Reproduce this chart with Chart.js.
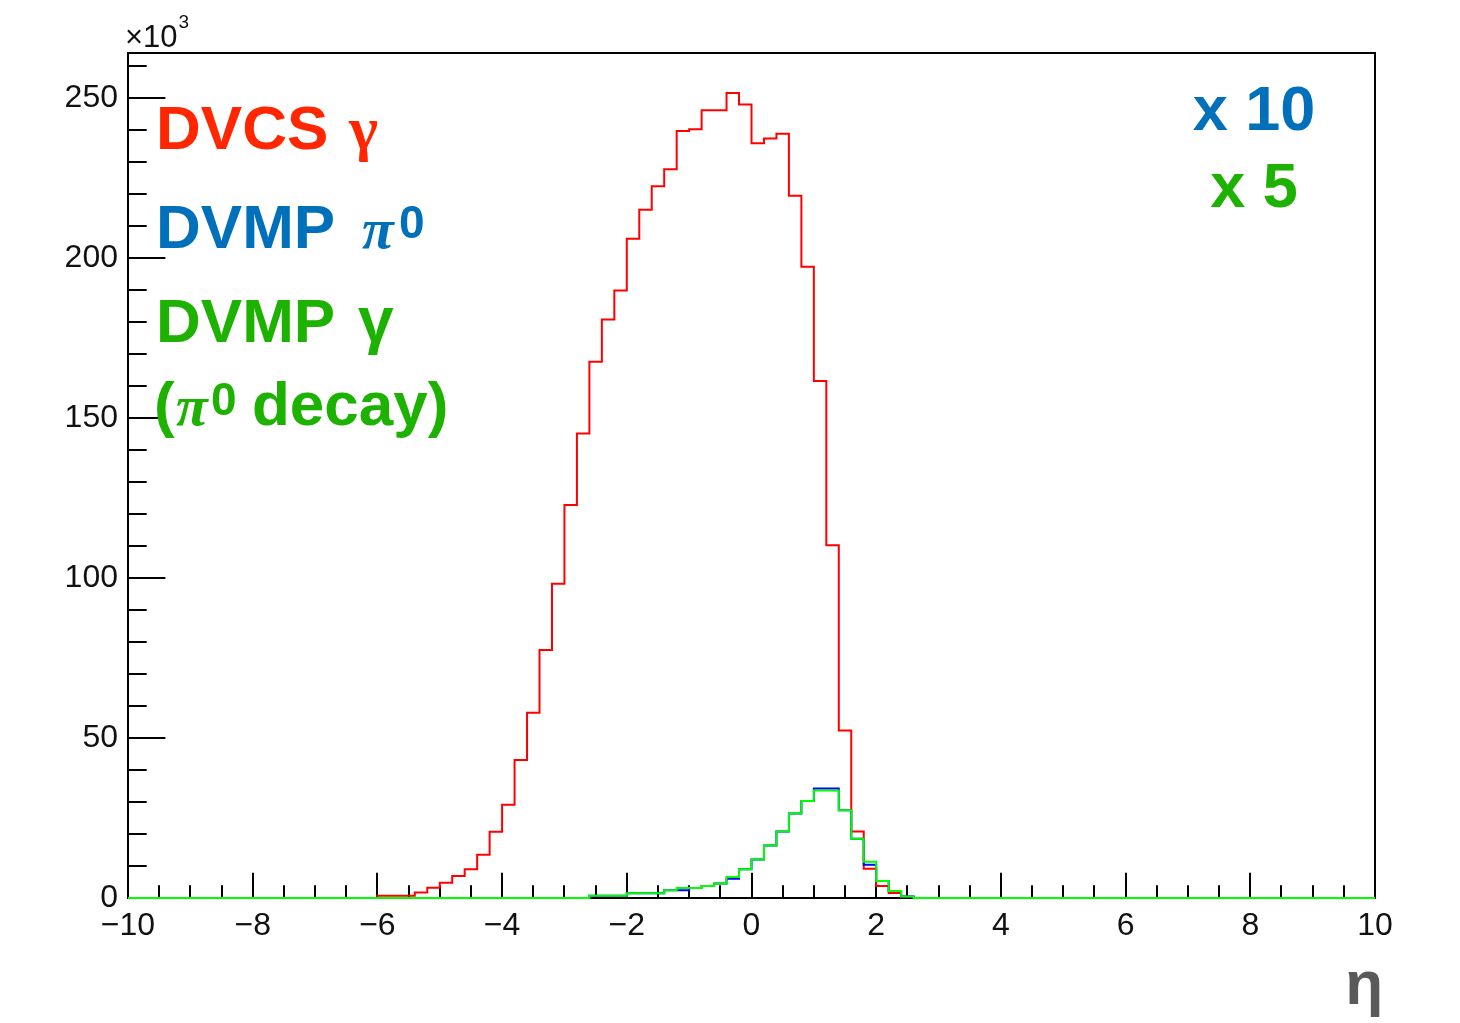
<!DOCTYPE html>
<html>
<head>
<meta charset="utf-8">
<script src="https://cdn.jsdelivr.net/npm/chart.js@4.4.1/dist/chart.umd.min.js"></script>
<style>
    html, body { margin: 0; padding: 0; background: #fff; }
    #wrap { width: 1460px; height: 1023px; }
</style>
</head>
<body>
<div id="wrap"><canvas id="etaChart" width="1460" height="1023"></canvas></div>
<script>
// eta distributions, bins of 0.2, contents in units of 10^3
const binWidth = 0.2;

// DVCS photon, first bin starts at eta = -6.0
const dvcsStart = -6.0;
const dvcsGamma = [
    0.7, 0.7, 0.7, 1.7, 3.2, 4.8, 6.9, 9.0, 13.5, 20.7,
    29.1, 43.1, 57.9, 77.5, 98.2, 122.8, 145.1, 167.5, 180.7, 189.8,
    206.0, 215.0, 222.4, 227.7, 239.6, 240.2, 246.1, 246.1, 251.5, 247.9,
    235.8, 237.3, 238.8, 219.4, 197.2, 161.5, 110.2, 52.3, 20.8, 9.1,
    3.75, 1.6, 0.4
];

// DVMP histograms, first bin starts at eta = -2.6 (pi0 scaled x10, gamma x5)
const dvmpStart = -2.6;
const dvmpPi0 = [
    0.7, 0.7, 0.7, 1.5, 1.5, 1.5, 2.4, 2.4, 3.1, 3.75,
    4.5, 6.0, 9.0, 12.0, 16.4, 20.8, 26.4, 30.3, 34.2, 34.2,
    27.4, 18.5, 10.4, 5.3, 2.2, 0.5
];
const dvmpGamma = [
    0.7, 0.7, 0.7, 1.5, 1.5, 1.5, 2.4, 3.1, 3.1, 3.75,
    4.5, 6.6, 9.0, 12.0, 16.4, 20.8, 26.4, 30.3, 33.6, 33.6,
    27.4, 18.5, 11.3, 5.3, 2.2, 0.5
];

const xTickLabels = [-10, -8, -6, -4, -2, 0, 2, 4, 6, 8, 10];
const yTickLabels = [0, 50, 100, 150, 200, 250];

// histogram outline over the full range -10..10
const toSteps = (start, values) => {
    const pts = [{ x: -10, y: 0 }];
    values.forEach((v, i) => pts.push({ x: start + i * binWidth, y: v }));
    pts.push({ x: start + values.length * binWidth, y: 0 });
    pts.push({ x: 10, y: 0 });
    return pts;
};

const sans = 'Liberation Sans, Arial, Helvetica, sans-serif';
const serif = 'Liberation Serif, Times New Roman, serif';

// ROOT style frame with inward ticks, plus the text labels
const rootFrame = {
    id: 'rootFrame',
    beforeDatasetsDraw(chart) {
        const { ctx, chartArea: a, scales: { x, y } } = chart;
        ctx.save();
        ctx.strokeStyle = '#000';
        ctx.lineWidth = 2;
        ctx.strokeRect(a.left, a.top, a.right - a.left, a.bottom - a.top);

        const h = a.bottom - a.top;
        const w = a.right - a.left;
        ctx.beginPath();
        for (let v = -10; v <= 10.001; v += 0.5) {
            const px = Math.round(x.getPixelForValue(v));
            const len = Math.abs(v % 2) < 0.001 ? 0.03 * h : 0.015 * h;
            ctx.moveTo(px, a.bottom);
            ctx.lineTo(px, a.bottom - len);
        }
        for (let v = 0; v <= 260; v += 10) {
            const py = Math.round(y.getPixelForValue(v));
            const len = v % 50 === 0 ? 0.03 * w : 0.015 * w;
            ctx.moveTo(a.left, py);
            ctx.lineTo(a.left + len, py);
        }
        ctx.stroke();
        ctx.restore();
    },
    afterDraw(chart) {
        const { ctx } = chart;
        ctx.save();
        ctx.textAlign = 'left';
        ctx.textBaseline = 'alphabetic';
        const put = (txt, x, y, font, color) => {
            ctx.font = font;
            ctx.fillStyle = color;
            ctx.fillText(txt, x, y);
            return x + ctx.measureText(txt).width;
        };
        const red = '#ff2600', blue = '#0070bb', green = '#1db100';

        // exponent of the y axis
        const ex = put('\u00d710', 125, 47, '31px ' + sans, '#111');
        put('3', ex + 1, 28, '19px ' + sans, '#111');

        put('DVCS', 156, 149, 'bold 62px ' + sans, red);
        put('\u03b3', 349, 149, 'bold 62px ' + serif, red);

        put('DVMP', 156, 248, 'bold 62px ' + sans, blue);
        put('\u03c0', 362, 248, 'italic bold 58px ' + serif, blue);
        put('0', 399, 238, 'bold 46px ' + sans, blue);

        put('DVMP', 156, 342, 'bold 62px ' + sans, green);
        put('\u03b3', 358, 342, 'bold 64px ' + sans, green);

        put('(', 154, 425, 'bold 62px ' + sans, green);
        put('\u03c0', 176, 425, 'italic bold 58px ' + serif, green);
        put('0', 211, 415, 'bold 46px ' + sans, green);
        put('decay)', 252, 425, 'bold 62px ' + sans, green);

        ctx.textAlign = 'center';
        put('x 10', 1254, 130, 'bold 63px ' + sans, blue);
        put('x 5', 1254, 207, 'bold 63px ' + sans, green);

        ctx.textAlign = 'right';
        put('\u03b7', 1383, 1004, 'bold 62px ' + sans, '#5a5a5a');
        ctx.restore();
    }
};

const lineSet = (label, data, color, order) => ({
    label: label,
    data: data,
    borderColor: color,
    backgroundColor: color,
    borderWidth: 2,
    pointRadius: 0,
    stepped: 'before',
    fill: false,
    clip: false,
    order: order,
});

const tickFont = { family: sans, size: 32 };
const fmt = (v) => (v < 0 ? '\u2212' + Math.abs(v) : String(v));

new Chart(document.getElementById('etaChart'), {
    type: 'line',
    data: {
        datasets: [
            lineSet('DVCS \u03b3', toSteps(dvcsStart, dvcsGamma), '#ff0000', 2),
            lineSet('DVMP \u03c00', toSteps(dvmpStart, dvmpPi0), '#0000ff', 1),
            lineSet('DVMP \u03b3', toSteps(dvmpStart, dvmpGamma), '#00ff00', 0),
        ],
    },
    options: {
        responsive: false,
        animation: false,
        layout: { padding: { top: 53, right: 85, left: 0, bottom: 0 } },
        plugins: {
            legend: { display: false },
            tooltip: { enabled: false },
        },
        scales: {
            x: {
                type: 'linear',
                min: -10,
                max: 10,
                grid: { display: false, drawTicks: false },
                border: { display: false },
                afterBuildTicks: (s) => { s.ticks = xTickLabels.map((v) => ({ value: v })); },
                afterFit: (s) => { s.height = 125; },
                ticks: {
                    font: tickFont,
                    color: '#111',
                    padding: 9,
                    maxRotation: 0,
                    autoSkip: false,
                    callback: fmt,
                },
            },
            y: {
                type: 'linear',
                min: 0,
                max: 264,
                grid: { display: false, drawTicks: false },
                border: { display: false },
                afterBuildTicks: (s) => { s.ticks = yTickLabels.map((v) => ({ value: v })); },
                afterFit: (s) => { s.width = 128; },
                ticks: {
                    font: tickFont,
                    color: '#111',
                    padding: 10,
                    autoSkip: false,
                    callback: fmt,
                },
            },
        },
    },
    plugins: [rootFrame],
});
</script>
</body>
</html>
